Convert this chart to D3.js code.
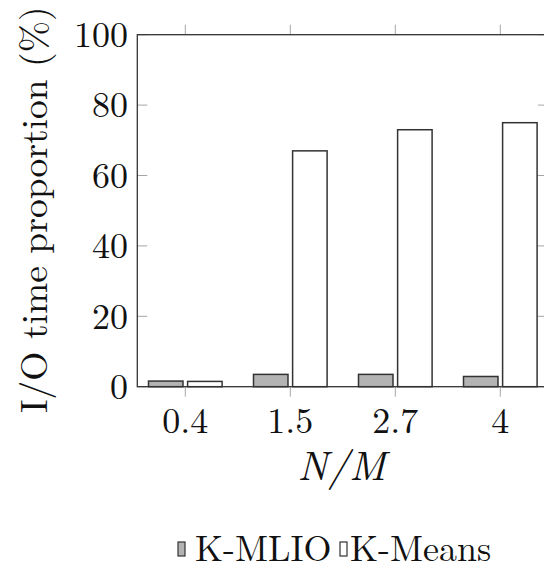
<!DOCTYPE html>
<html>
<head>
<meta charset="utf-8">
<script src="https://cdn.jsdelivr.net/npm/d3@7"></script>
<style>
  html, body { margin: 0; padding: 0; background: #fff; overflow: hidden; }
  svg { display: block; }
  svg text { font-family: "Latin Modern Roman", "CMU Serif", "Liberation Serif", "Times New Roman", Tinos, "DejaVu Serif", serif; fill: #111; }
</style>
</head>
<body>
<div id="chart"></div>
<script>
// data
const categories = ['0.4', '1.5', '2.7', '4'];
const seriesNames = ['K-MLIO', 'K-Means'];
const kmlio = [1.6, 3.5, 3.5, 2.9];
const kmeans = [1.5, 67, 73, 75];
const yTicks = [0, 20, 40, 60, 80, 100];
const seriesFill = ['#b3b3b3', '#ffffff'];

const width = 544, height = 572;
const plot = { left: 137.3, right: 548, top: 34.7, bottom: 386.7 };

const svg = d3.select('#chart')
  .append('svg')
  .attr('width', width)
  .attr('height', height);

const x = d3.scalePoint()
  .domain(categories)
  .range([185.3, 500.3]);

const inner = d3.scaleBand()
  .domain(seriesNames)
  .range([-36.8, 36.8])
  .paddingInner(0.118);

const y = d3.scaleLinear()
  .domain([0, 100])
  .range([plot.bottom, plot.top]);

const rows = categories.map((c, i) => ({ cat: c, values: [kmlio[i], kmeans[i]] }));

// bars
const groups = svg.append('g')
  .selectAll('g')
  .data(rows)
  .enter()
  .append('g')
  .attr('transform', d => `translate(${x(d.cat)},0)`);

groups.selectAll('rect')
  .data(d => d.values.map((v, j) => ({ name: seriesNames[j], value: v, j })))
  .enter()
  .append('rect')
  .attr('x', d => inner(d.name))
  .attr('width', inner.bandwidth())
  .attr('y', d => y(d.value))
  .attr('height', d => y(0) - y(d.value))
  .style('fill', d => seriesFill[d.j])
  .style('stroke', '#333')
  .style('stroke-width', 1.5);

// ticks
const tickColor = '#a6a6a6';
const tk = svg.append('g').style('stroke', tickColor).style('stroke-width', 1);
yTicks.forEach(t => {
  tk.append('line').attr('x1', plot.left).attr('x2', plot.left + 10)
    .attr('y1', y(t)).attr('y2', y(t));
  tk.append('line').attr('x1', plot.right - 10).attr('x2', plot.right)
    .attr('y1', y(t)).attr('y2', y(t));
});
categories.forEach(c => {
  tk.append('line').attr('x1', x(c)).attr('x2', x(c))
    .attr('y1', plot.top - 10).attr('y2', plot.top);
  tk.append('line').attr('x1', x(c)).attr('x2', x(c))
    .attr('y1', plot.bottom).attr('y2', plot.bottom + 10);
});

// frame
svg.append('rect')
  .attr('x', plot.left)
  .attr('y', plot.top)
  .attr('width', plot.right - plot.left)
  .attr('height', plot.bottom - plot.top)
  .style('fill', 'none')
  .style('stroke', '#333')
  .style('stroke-width', 1.3);

// tick labels
svg.append('g')
  .selectAll('text')
  .data(yTicks)
  .enter()
  .append('text')
  .attr('x', 128)
  .attr('y', d => y(d))
  .attr('dy', '0.34em')
  .attr('text-anchor', 'end')
  .style('font-size', '36px')
  .text(d => d);

svg.append('g')
  .selectAll('text')
  .data(categories)
  .enter()
  .append('text')
  .attr('x', d => x(d))
  .attr('y', 433)
  .attr('text-anchor', 'middle')
  .style('font-size', '36px')
  .text(d => d);

// axis titles
svg.append('text')
  .attr('transform', 'translate(47,413) rotate(-90)')
  .attr('text-anchor', 'start')
  .style('font-size', '37.5px')
  .text('I/O time proportion (%)');

svg.append('text')
  .attr('x', 341.7)
  .attr('y', 480)
  .attr('text-anchor', 'middle')
  .style('font-size', '41px')
  .style('font-style', 'italic')
  .text('N/M');

// legend
const legendX = [178, 340];
const legendTextX = [195, 350];
const lg = svg.append('g');
seriesNames.forEach((name, i) => {
  lg.append('rect')
    .attr('x', legendX[i])
    .attr('y', 542)
    .attr('width', 7)
    .attr('height', 14)
    .style('fill', seriesFill[i])
    .style('stroke', '#333')
    .style('stroke-width', 1.2);
  lg.append('text')
    .attr('x', legendTextX[i])
    .attr('y', 561)
    .style('font-size', '36px')
    .text(name);
});
</script>
</body>
</html>
